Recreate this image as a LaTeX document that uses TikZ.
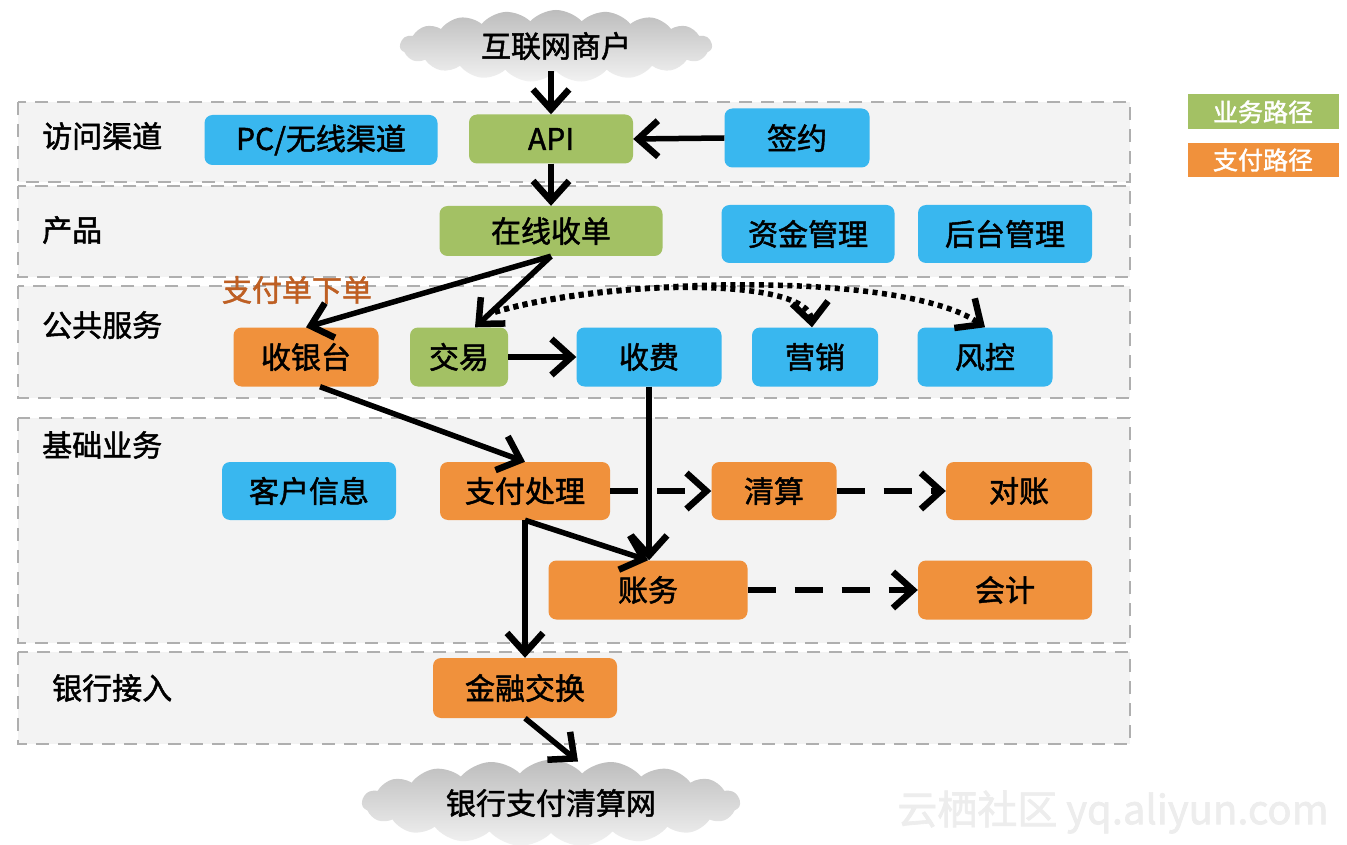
\documentclass[tikz,border=0pt]{standalone}
\usepackage{fontspec}
\setmainfont{Noto Sans CJK SC}[FakeBold=1.6]
\usetikzlibrary{arrows.meta,shapes.symbols}
\definecolor{cblue}{RGB}{57,183,239}
\definecolor{cgreen}{RGB}{163,193,100}
\definecolor{corange}{RGB}{240,145,60}
\definecolor{bandfill}{RGB}{243,243,243}
\definecolor{bandline}{RGB}{175,175,175}
\definecolor{lblbrown}{RGB}{190,95,35}
\tikzset{
  band/.style={draw=bandline,fill=bandfill,line width=2.5pt,dash pattern=on 13pt off 9pt},
  bandlabel/.style={anchor=west,inner sep=0,font=\fontsize{30}{30}\selectfont},
  box/.style={rounded corners=8pt,inner sep=0,text=black,font=\fontsize{30}{30}\selectfont},
  bluebox/.style={box,fill=cblue},
  greenbox/.style={box,fill=cgreen},
  orangebox/.style={box,fill=corange},
  cloudnode/.style={cloud,cloud puffs=19,cloud puff arc=95,aspect=4.5,inner sep=0,
     top color=black!26,bottom color=black!5,draw=none,font=\fontsize{30}{30}\selectfont},
  tip/.style={-{Straight Barb[length=20pt,width=36pt,line width=6.5pt]}},
  arr/.style={line width=5.5pt,tip},
  dasharr/.style={arr,dash pattern=on 28pt off 19pt},
  dotarr/.style={line width=5.5pt,dash pattern=on 5pt off 4.5pt,tip},
  legend/.style={inner sep=0,text=white,font=\fontsize{25}{25}\selectfont},
}
\begin{document}
\begin{tikzpicture}[x=1pt,y=-1pt]
\useasboundingbox (0,0) rectangle (1347,845);
\fill[white] (0,0) rectangle (1347,845);
% bands
\draw[band] (18,102) rectangle (1130,182);
\draw[band] (18,186) rectangle (1130,277);
\draw[band] (18,286) rectangle (1130,398);
\draw[band] (18,418) rectangle (1130,643);
\draw[band] (18,652) rectangle (1130,744);
\node[bandlabel] (l1) at (42,136) {访问渠道};
\node[bandlabel] (l2) at (42,230) {产品};
\node[bandlabel] (l3) at (42,325) {公共服务};
\node[bandlabel] (l4) at (42,445) {基础业务};
\node[bandlabel] (l5) at (52,688) {银行接入};
% clouds
\node[cloudnode,minimum width=312pt,minimum height=72pt] (c1) at (556,46) {互联网商户};
\node[cloudnode,minimum width=378pt,minimum height=72pt] (c2) at (551,803) {银行支付清算网};
% boxes
\node[bluebox,minimum width=233pt,minimum height=50pt] (pc) at (321,140) {PC/无线渠道};
\node[greenbox,minimum width=164pt,minimum height=49pt] (api) at (551,139) {API};
\node[bluebox,minimum width=145pt,minimum height=59pt] (qy) at (797,138) {签约};
\node[greenbox,minimum width=223pt,minimum height=50pt] (zx) at (551,231) {在线收单};
\node[bluebox,minimum width=173pt,minimum height=58pt] (zj) at (808,234) {资金管理};
\node[bluebox,minimum width=174pt,minimum height=58pt] (ht) at (1005,234) {后台管理};
\node[orangebox,minimum width=145pt,minimum height=59pt] (syt) at (306,357) {收银台};
\node[greenbox,minimum width=98pt,minimum height=59pt] (jy) at (459,357) {交易};
\node[bluebox,minimum width=145pt,minimum height=59pt] (sf) at (649,357) {收费};
\node[bluebox,minimum width=126pt,minimum height=59pt] (yx) at (815,357) {营销};
\node[bluebox,minimum width=135pt,minimum height=59pt] (fk) at (985,357) {风控};
\node[bluebox,minimum width=174pt,minimum height=58pt] (kh) at (309,491) {客户信息};
\node[orangebox,minimum width=170pt,minimum height=58pt] (zf) at (525,491) {支付处理};
\node[orangebox,minimum width=125pt,minimum height=58pt] (qs) at (774,491) {清算};
\node[orangebox,minimum width=146pt,minimum height=58pt] (dz) at (1019,491) {对账};
\node[orangebox,minimum width=199pt,minimum height=59pt] (zw) at (648,590) {账务};
\node[orangebox,minimum width=174pt,minimum height=59pt] (kj) at (1005,590) {会计};
\node[orangebox,minimum width=184pt,minimum height=60pt] (jr) at (525,688) {金融交换};
% label
\node[inner sep=0,text=lblbrown,font=\fontsize{30}{30}\selectfont] (zfd) at (297,290) {支付单下单};
% legend
\node[legend,fill=cgreen,minimum width=151pt,minimum height=35pt] (lg1) at (1263,112) {业务路径};
\node[legend,fill=corange,minimum width=151pt,minimum height=34pt] (lg2) at (1263,160) {支付路径};
% watermark
\node[inner sep=0,text=black!7,font=\fontsize{40}{40}\selectfont] (wm) at (1113,812) {云栖社区 yq.aliyun.com};
% arrows
\draw[arr] (api.north |- c1.south) -- (api.north);
\draw[arr] (qy.west) -- (api.east);
\draw[arr] (api.south) -- (zx.north);
\draw[arr] (zx.south) -- (syt.north);
\draw[arr] (zx.south) -- ([xshift=16pt]jy.north);
\coordinate (ds) at (495,312);
\draw[dotarr] (ds) .. controls (600,280) and (808,276) .. ([xshift=-3pt]yx.north);
\draw[dotarr] (ds) .. controls (620,276) and (905,272) .. (fk.north);
\draw[arr] (jy.east) -- (sf.west);
\draw[arr] (sf.south) -- (sf.south |- zw.north);
\draw[arr] ([xshift=14pt]syt.south) -- (zf.north);
\draw[dasharr] (zf.east) -- (qs.west);
\draw[dasharr] (qs.east) -- (dz.west);
\draw[arr] (zf.south) -- (zw.north);
\draw[arr] (zf.south) -- (jr.north);
\draw[dasharr] (zw.east) -- (kj.west);
\draw[arr] (jr.south) -- ([xshift=27pt,yshift=-2pt]c2.north);
\end{tikzpicture}
\end{document}
